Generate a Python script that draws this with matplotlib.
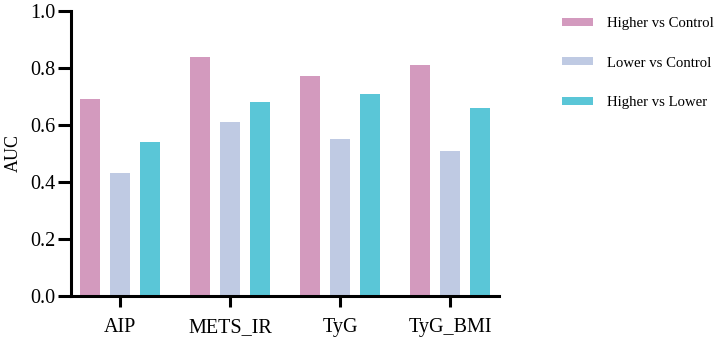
import matplotlib
matplotlib.use("Agg")
import matplotlib.pyplot as plt
import numpy as np

categories = ["AIP", "METS_IR", "TyG", "TyG_BMI"]
series_names = ["Higher vs Control", "Lower vs Control", "Higher vs Lower"]
higher_vs_control = [0.69, 0.84, 0.77, 0.81]
lower_vs_control = [0.43, 0.61, 0.55, 0.51]
higher_vs_lower = [0.54, 0.68, 0.71, 0.66]
yticks = [0.0, 0.2, 0.4, 0.6, 0.8, 1.0]
colors = ["#D39ABE", "#BFCAE3", "#5AC6D7"]

plt.rcParams['font.family'] = ['Liberation Serif', 'DejaVu Serif']

fig = plt.figure(figsize=(7.2, 3.41), dpi=100)
ax = fig.add_axes([0.0986, 0.132, 0.6931 - 0.0986, 0.968 - 0.132])

x = np.arange(len(categories))
w = 0.182
off = 0.273
handles = []
for i, (vals, name) in enumerate(zip([higher_vs_control, lower_vs_control, higher_vs_lower], series_names)):
    h = ax.bar(x + (i - 1) * off, vals, width=w, color=colors[i], label=name)
    handles.append(h)

ax.set_xlim(-0.447, 3.446)
ax.set_ylim(0, 1.0)
ax.set_yticks(yticks)
ax.set_yticklabels([f"{v:.1f}" for v in yticks])
ax.set_xticks(x)
ax.set_xticklabels(categories)
ax.set_ylabel("AUC", fontsize=13, labelpad=6)
for s in ["top", "right"]:
    ax.spines[s].set_visible(False)
for s in ["left", "bottom"]:
    ax.spines[s].set_linewidth(2.2)
ax.tick_params(axis='both', width=2.2, labelsize=14.5, colors='black')
ax.tick_params(axis='x', length=8, pad=8)
ax.tick_params(axis='y', length=9.5, pad=2)

fig.legend(handles=handles, labels=series_names, loc='upper left',
           bbox_to_anchor=(0.772, 0.967), frameon=False, fontsize=10.6,
           handlelength=2.1, handleheight=0.45, labelspacing=1.8,
           handletextpad=1.0, borderaxespad=0)

fig.savefig("out.png", dpi=100)
